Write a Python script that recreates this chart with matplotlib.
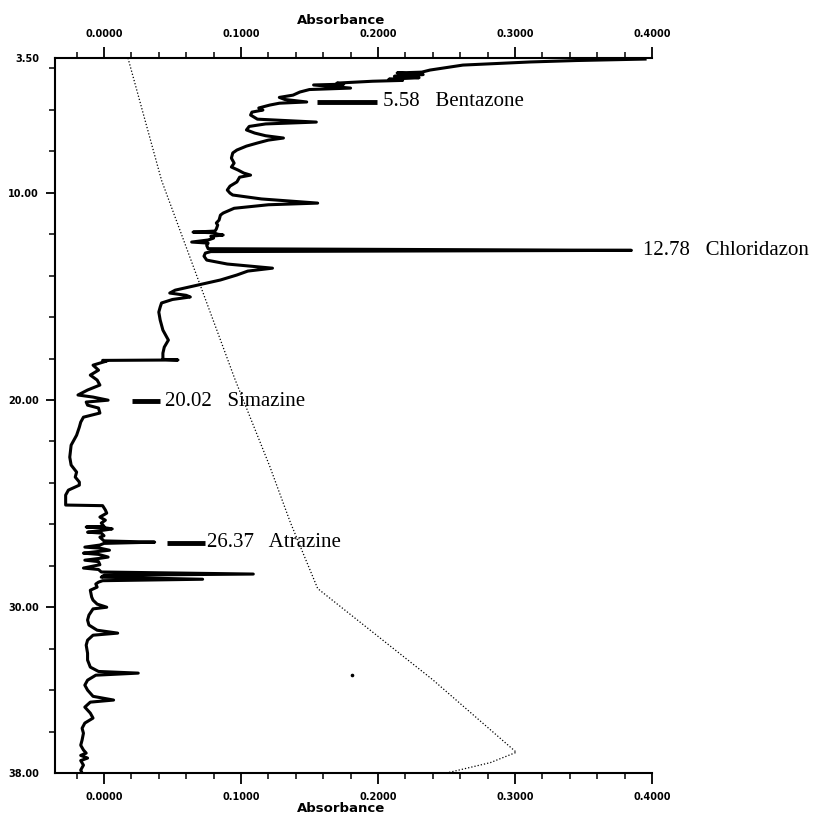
import numpy as np
import matplotlib.pyplot as plt
from matplotlib.ticker import MultipleLocator, FormatStrFormatter

# Chromatogram: retention time (min) vs absorbance
# upper part, before the baseline step at ~18 min
upper_time = [3.55, 3.62, 3.69, 3.84, 4.08, 4.18, 4.22, 4.30, 4.38, 4.45,
              4.52, 4.58, 4.62, 4.71, 4.76, 4.80, 4.95, 5.02, 5.14, 5.29,
              5.40, 5.50, 5.62, 5.68, 5.77, 5.91, 6.01, 6.11, 6.25, 6.45,
              6.59, 6.68, 6.80, 6.97, 7.12, 7.25, 7.36, 7.46, 7.60, 7.75,
              7.94, 8.08, 8.33, 8.57, 8.76, 8.91, 9.05, 9.15, 9.25, 9.48,
              9.68, 9.87, 10.02, 10.11, 10.30, 10.50, 10.58, 10.75, 10.98, 11.08,
              11.32, 11.46, 11.56, 11.75, 11.85, 11.90, 11.93, 12.00, 12.04, 12.10,
              12.19, 12.28, 12.38, 12.43, 12.55, 12.70, 12.78, 12.84, 12.91, 13.06,
              13.25, 13.44, 13.64, 13.78, 13.97, 14.21, 14.46, 14.70, 14.84, 14.95,
              15.03, 15.15, 15.32, 15.52, 15.76, 16.14, 16.63, 17.11, 17.45, 17.74,
              18.04, 18.07]
upper_abs = [0.395, 0.345, 0.311, 0.262, 0.238, 0.232, 0.214, 0.233, 0.212, 0.230,
             0.208, 0.218, 0.196, 0.170, 0.175, 0.153, 0.180, 0.150, 0.143, 0.138,
             0.128, 0.132, 0.148, 0.128, 0.121, 0.113, 0.116, 0.108, 0.107, 0.112,
             0.155, 0.118, 0.106, 0.104, 0.110, 0.118, 0.131, 0.120, 0.112, 0.104,
             0.097, 0.094, 0.093, 0.095, 0.093, 0.098, 0.102, 0.107, 0.099, 0.097,
             0.092, 0.090, 0.092, 0.094, 0.115, 0.156, 0.120, 0.095, 0.087, 0.085,
             0.084, 0.082, 0.083, 0.082, 0.081, 0.065, 0.080, 0.083, 0.087, 0.078,
             0.080, 0.076, 0.064, 0.076, 0.075, 0.076, 0.385, 0.078, 0.074, 0.073,
             0.075, 0.090, 0.123, 0.105, 0.097, 0.085, 0.068, 0.052, 0.048, 0.060,
             0.063, 0.050, 0.042, 0.041, 0.040, 0.041, 0.043, 0.047, 0.044, 0.043,
             0.043, 0.054]

# lower part, after the step
lower_time = [18.09, 18.12, 18.32, 18.56, 18.80, 19.04, 19.28, 19.52, 19.76, 19.86,
              20.01, 20.10, 20.25, 20.39, 20.63, 20.83, 21.07, 21.31, 21.70, 22.18,
              22.76, 23.14, 23.48, 23.72, 23.96, 24.11, 24.35, 24.59, 24.83, 25.07,
              25.10, 25.31, 25.46, 25.65, 25.80, 25.94, 26.10, 26.13, 26.16, 26.22,
              26.28, 26.38, 26.42, 26.55, 26.62, 26.80, 26.86, 26.92, 27.00, 27.10,
              27.15, 27.25, 27.30, 27.39, 27.45, 27.58, 27.65, 27.73, 27.80, 27.95,
              28.11, 28.18, 28.30, 28.40, 28.46, 28.55, 28.65, 28.72, 28.79, 28.88,
              29.03, 29.18, 29.51, 29.66, 29.85, 30.00, 30.08, 30.38, 30.62, 30.86,
              31.11, 31.25, 31.35, 31.59, 31.83, 32.22, 32.55, 32.89, 33.10, 33.18,
              33.28, 33.52, 33.76, 34.00, 34.30, 34.48, 34.58, 34.82, 35.11, 35.35,
              35.59, 35.84, 36.08, 36.41, 36.66, 36.89, 37.04, 37.15, 37.28, 37.40,
              37.62, 37.86, 38.00]
lower_abs = [-0.001, 0.002, -0.008, -0.004, -0.010, -0.005, -0.003, -0.012, -0.019, -0.008,
             0.003, -0.013, -0.012, -0.004, -0.003, -0.015, -0.017, -0.018, -0.020, -0.024,
             -0.025, -0.024, -0.020, -0.021, -0.018, -0.018, -0.026, -0.028, -0.028, -0.028,
             -0.001, 0.001, 0.002, -0.003, 0.001, -0.002, 0.000, -0.013, 0.000, 0.006,
             0.000, -0.012, -0.002, 0.000, -0.003, 0.000, 0.037, 0.000, -0.003, -0.014,
             -0.003, 0.004, -0.003, -0.015, -0.004, 0.003, -0.004, -0.014, -0.004, -0.003,
             -0.015, -0.004, -0.002, 0.109, 0.000, -0.002, 0.072, -0.001, -0.004, -0.006,
             -0.005, -0.010, -0.009, -0.008, -0.005, 0.002, -0.008, -0.011, -0.012, -0.011,
             -0.005, 0.010, -0.008, -0.012, -0.013, -0.012, -0.012, -0.010, -0.004, 0.025,
             -0.006, -0.012, -0.014, -0.012, -0.008, 0.007, -0.010, -0.014, -0.010, -0.008,
             -0.014, -0.016, -0.015, -0.016, -0.017, -0.015, -0.013, -0.017, -0.012, -0.017,
             -0.015, -0.017, -0.016]

# dotted gradient trace
grad_time = [3.5, 9.4, 19.0, 23.2, 25.9, 29.1, 33.5, 37.0, 37.5, 38.0]
grad_abs = [0.0175, 0.042, 0.0956, 0.121, 0.136, 0.156, 0.240, 0.301, 0.282, 0.250]
stray_dot = (0.181, 33.28)

# peak labels: text, y (min), dash start, dash end, text x
peak_labels = [
    ("5.58   Bentazone", 5.62, 0.1555, 0.199, 0.2036),
    ("12.78   Chloridazon", 12.78, None, None, 0.3934),
    ("20.02   Simazine", 20.05, 0.0204, 0.0409, 0.0445),
    ("26.37   Atrazine", 26.90, 0.046, 0.0737, 0.0752),
]

ytick_vals = [3.5, 10, 20, 30, 38]
xtick_vals = [0.0, 0.1, 0.2, 0.3, 0.4]

fig = plt.figure(figsize=(8.29, 8.22), dpi=100)
ax = fig.add_axes([0.0663, 0.0596, 0.7201, 0.8698])

time_all = np.array(upper_time + lower_time)
abs_all = np.array(upper_abs + lower_abs)
ax.plot(abs_all, time_all, color="black", lw=2.2)
ax.plot(grad_abs, grad_time, color="black", lw=0.9, ls=(0, (1, 1.6)))
ax.plot([stray_dot[0]], [stray_dot[1]], marker="o", ms=1.6, color="black")

for text, y, x0, x1, xt in peak_labels:
    if x0 is not None:
        ax.plot([x0, x1], [y, y], color="black", lw=3.5, solid_capstyle="butt")
    ax.text(xt, y, text, family="Liberation Serif", fontsize=15,
            va="center", ha="left", clip_on=False)

ax.set_xlim(-0.0358, 0.4)
ax.set_ylim(38, 3.5)

for side in ["left", "top", "bottom"]:
    ax.spines[side].set_linewidth(1.5)
ax.spines["right"].set_visible(False)

ax.set_xticks(xtick_vals)
ax.xaxis.set_minor_locator(MultipleLocator(0.02))
ax.xaxis.set_major_formatter(FormatStrFormatter("%.4f"))
ax.tick_params(axis="x", which="both", top=True, bottom=True,
               labeltop=True, labelbottom=True, direction="out")
ax.tick_params(axis="x", which="major", length=8, width=1.3, pad=6)
ax.tick_params(axis="x", which="minor", length=4.5, width=1.1)

ax.set_yticks(ytick_vals)
ax.yaxis.set_minor_locator(MultipleLocator(2))
ax.yaxis.set_major_formatter(FormatStrFormatter("%.2f"))
ax.tick_params(axis="y", which="major", length=6.5, width=1.3, pad=5)
ax.tick_params(axis="y", which="minor", length=4, width=1.1)
yt = ax.yaxis.get_major_ticks()
yt[0].tick1line.set_visible(False)
yt[-1].tick1line.set_visible(False)

for lab in ax.get_xticklabels() + ax.get_yticklabels():
    lab.set_fontsize(7)
    lab.set_fontweight("bold")

ax.text(0.48, 1.053, "Absorbance", transform=ax.transAxes, ha="center",
        va="center", fontsize=9.5, fontweight="bold")
ax.text(0.48, -0.05, "Absorbance", transform=ax.transAxes, ha="center",
        va="center", fontsize=9.5, fontweight="bold")

fig.savefig("out.png", dpi=100)
